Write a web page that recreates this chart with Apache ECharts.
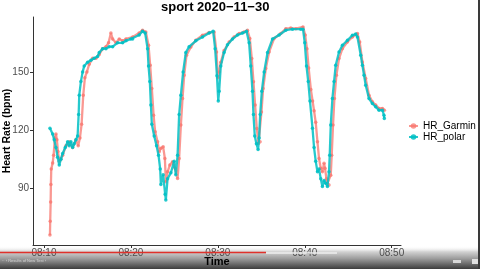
<!DOCTYPE html>
<html><head><meta charset="utf-8">
<script src="https://cdn.jsdelivr.net/npm/echarts@6/dist/echarts.min.js"></script>
<style>html,body{margin:0;padding:0;background:#fff}#c{width:480px;height:269px}</style>
</head><body><div id="c"></div>
<script>
// time = minutes after 08:00, value = heart rate (bpm)
const garminHR = [[10.69,66],[10.72,73],[10.77,83],[10.80,92],[10.84,100],[11.00,103],[11.11,107],[11.26,116],[11.38,118],[11.49,115],[11.61,109],[11.76,104],[11.95,105],[12.15,107],[12.53,112],[12.91,114],[13.30,111],[13.68,115],[13.94,112],[14.14,116],[14.33,123],[14.52,138],[14.71,147],[14.94,150],[15.21,154],[15.60,157],[15.98,157],[16.36,159],[16.75,162],[17.13,163],[17.43,165],[17.70,170],[17.90,167],[18.28,165],[18.66,167],[19.05,166],[19.43,167],[20.20,168],[20.95,170],[21.34,171.5],[21.72,170.6],[22.03,163.7],[22.22,153.4],[22.41,141.4],[22.61,127.7],[22.79,119.1],[23.07,114],[23.25,108.8],[23.45,110.6],[23.71,111.4],[23.91,105.4],[24.02,93.4],[24.22,98.5],[24.48,102],[24.79,103.7],[25.09,100.3],[25.37,95.1],[25.55,105.4],[25.75,122.6],[25.94,136.3],[26.13,148.3],[26.40,158.6],[26.90,162.9],[27.47,166.3],[28.24,168.9],[29.00,170.3],[29.57,170.6],[29.85,160.3],[30.00,147],[30.15,150],[30.34,155],[30.72,161],[31.30,165.4],[31.87,168],[32.45,169.8],[33.02,170.6],[33.41,171.5],[33.68,167.2],[33.91,156.9],[34.10,144.9],[34.29,132.9],[34.48,120.9],[34.68,113.1],[34.86,114],[35.02,129.4],[35.21,141.4],[35.52,151.7],[35.90,160.3],[36.47,167.2],[37.24,169.8],[37.82,172.3],[38.39,172.6],[38.97,172.3],[39.80,173.2],[40.05,169],[40.25,162],[40.45,152],[40.70,141],[40.90,135],[41.07,130],[41.26,124],[41.46,114],[41.64,105.4],[41.84,100.3],[42.03,98.5],[42.22,102.9],[42.33,100.3],[42.49,95],[42.61,92.6],[42.79,91.7],[42.99,96.8],[43.10,107],[43.25,122.6],[43.41,136.3],[43.64,148.3],[43.94,156.9],[44.33,162],[44.90,165.4],[45.48,168],[46.06,169.8],[46.32,165.4],[46.63,155.1],[47.01,146.6],[47.39,138],[47.78,134.6],[48.16,132.9],[48.54,131.2],[48.93,131.2],[49.16,130.3]];
const polarHR = [[10.69,121],[11.0,118],[11.18,115],[11.38,111],[11.57,106],[11.76,102],[11.95,105],[12.15,108],[12.45,111],[12.72,114],[12.91,112],[13.1,114],[13.3,111],[13.48,113],[13.68,115],[13.87,117],[13.99,128],[14.06,138],[14.25,145],[14.45,150],[14.63,153],[15.02,155],[15.4,156],[15.78,157],[16.17,158],[16.36,160],[16.75,162],[17.13,162],[17.5,163],[17.9,163],[18.47,165],[19.05,165],[19.43,166],[20.0,167],[20.2,167],[20.95,169],[21.34,171],[21.64,170],[21.92,162],[22.03,153],[22.18,145],[22.3,133],[22.41,123],[22.68,117],[22.95,112],[23.18,107],[23.37,100],[23.45,92],[23.71,97],[23.94,87],[24.02,84],[24.22,95],[24.6,98],[24.98,104],[25.17,97],[25.37,107],[25.55,128],[25.75,138],[26.01,150],[26.32,160],[26.7,163],[27.47,166],[28.24,168],[29.0,170],[29.46,171],[29.69,162],[29.9,148],[30.05,135],[30.15,140],[30.34,153],[30.72,160],[31.11,164],[31.69,167],[32.26,169],[32.84,170],[33.3,171],[33.6,165],[33.79,153],[33.99,140],[34.1,128],[34.25,117],[34.44,113],[34.63,110],[34.75,116],[34.87,128],[35.06,140],[35.33,150],[35.72,160],[36.29,167],[37.05,169],[37.82,171.5],[38.59,172],[39.54,172],[39.8,172],[40.0,165],[40.2,153],[40.4,145],[40.6,135],[40.89,121],[41.07,111],[41.26,104],[41.46,98.5],[41.64,100],[41.84,95],[42.03,91],[42.22,94],[42.41,92.6],[42.61,91],[42.79,98.5],[42.87,107],[42.99,122.6],[43.18,136.3],[43.37,145],[43.56,153.4],[43.94,160.3],[44.33,163.7],[44.91,166.3],[45.48,168.9],[45.86,169.5],[46.06,168],[46.44,158.6],[46.63,153.4],[46.82,148.3],[47.01,143.1],[47.39,136.3],[47.78,133.7],[48.16,132],[48.54,130.3],[48.93,130.3],[49.11,127.7],[49.15,126]];
const xTicks = [10, 20, 30, 40, 50];
const yTicks = [90, 120, 150];
const seriesNames = ['HR_Garmin', 'HR_polar'];
const titleText = 'sport 2020\u221211\u221230';

const FONT = '"Liberation Sans", Arial, Helvetica, sans-serif';
const chart = echarts.init(document.getElementById('c'), null, {renderer: 'canvas'});
const fmtTime = v => '08:' + String(Math.round(v)).padStart(2, '0');

chart.setOption({
  animation: false,
  backgroundColor: '#fff',
  textStyle: {fontFamily: FONT},
  title: {
    text: titleText, left: 161, top: 1, padding: 0,
    textStyle: {fontFamily: FONT, fontSize: 13, fontWeight: 'bold', color: '#000'}
  },
  grid: {left: 33, right: 79, top: 17, bottom: 24, containLabel: false, outerBoundsMode: 'none'},
  legend: {
    orient: 'vertical', left: 408, top: 121, padding: 0,
    itemWidth: 9, itemHeight: 7, itemGap: 1,
    data: seriesNames,
    textStyle: {fontFamily: FONT, fontSize: 10, color: '#000', lineHeight: 8}
  },
  xAxis: {
    type: 'value', min: 8.74, max: 51.07,
    name: 'Time', nameLocation: 'middle', nameGap: 11, nameMoveOverlap: false,
    nameTextStyle: {fontFamily: FONT, fontSize: 11, fontWeight: 'bold', color: '#000'},
    axisLine: {show: true, lineStyle: {color: '#333', width: 1}},
    axisTick: {show: true, length: 3, customValues: xTicks, lineStyle: {color: '#333'}},
    axisLabel: {customValues: xTicks, formatter: fmtTime, fontSize: 10, color: '#4d4d4d', margin: 3, fontFamily: FONT},
    splitLine: {show: false}
  },
  yAxis: {
    type: 'value', min: 60.8, max: 178.3,
    name: 'Heart Rate (bpm)', nameLocation: 'middle', nameGap: 20, nameMoveOverlap: false,
    nameTextStyle: {fontFamily: FONT, fontSize: 10.5, fontWeight: 'bold', color: '#000'},
    axisLine: {show: true, lineStyle: {color: '#333', width: 1}},
    axisTick: {show: true, length: 3, customValues: yTicks, lineStyle: {color: '#333'}},
    axisLabel: {customValues: yTicks, fontSize: 10, color: '#4d4d4d', margin: 4, fontFamily: FONT},
    splitLine: {show: false}
  },
  series: [
    {name: seriesNames[0], type: 'line', data: garminHR, showSymbol: true, symbol: 'circle', symbolSize: 3.5,
     itemStyle: {color: '#F8766D', opacity: 0.75}, lineStyle: {color: '#F8766D', width: 2.3, opacity: 0.75}, z: 2},
    {name: seriesNames[1], type: 'line', data: polarHR, showSymbol: true, symbol: 'circle', symbolSize: 3.5,
     itemStyle: {color: '#00BFC4', opacity: 0.85}, lineStyle: {color: '#00BFC4', width: 2.3, opacity: 0.85}, z: 3}
  ],
  graphic: [
    {type: 'rect', z: -10, silent: true, shape: {x: 0, y: 246, width: 480, height: 23},
     style: {fill: new echarts.graphic.LinearGradient(0, 0, 0, 1, [
       {offset: 0, color: 'rgba(255,255,255,0)'},
       {offset: 0.25, color: '#d2d2d2'},
       {offset: 0.55, color: '#9c9c9c'},
       {offset: 1, color: '#3c3c3c'}])}},
    {type: 'line', z: 100, silent: true, shape: {x1: 266, y1: 253, x2: 337, y2: 253}, style: {stroke: '#eeeeee', lineWidth: 1.5}},
    {type: 'line', z: 100, silent: true, shape: {x1: 0, y1: 252.5, x2: 266, y2: 252.5}, style: {stroke: '#e0312b', lineWidth: 1.5}},
    {type: 'text', z: 100, silent: true, x: 2, y: 259, style: {text: '\u00B7\u00B7 \u203A Results of New Test \u203A', fontSize: 4, fill: '#d5d5d5', fontFamily: FONT}},
    {type: 'rect', z: 100, silent: true, shape: {x: 453, y: 260, width: 8, height: 3}, style: {fill: '#d8d8d8'}},
    {type: 'rect', z: 100, silent: true, shape: {x: 472, y: 259, width: 6, height: 5}, style: {fill: '#e0e0e0'}},
    {type: 'rect', z: 100, silent: true, shape: {x: 478, y: 0, width: 2, height: 269}, style: {fill: '#3a3a3a'}}
  ]
});
</script></body></html>
